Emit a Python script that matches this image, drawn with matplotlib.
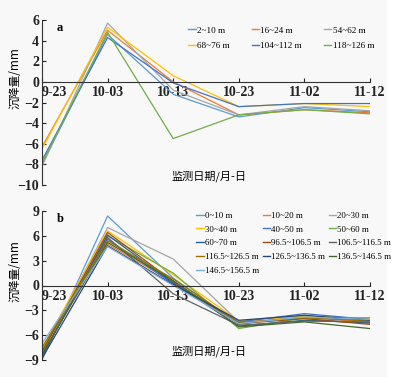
import numpy as np
import matplotlib
matplotlib.use("Agg")
import matplotlib.pyplot as plt
from matplotlib.patches import Rectangle

plt.rcParams['font.family'] = ['Liberation Serif', 'Noto Sans CJK SC']
plt.rcParams['axes.unicode_minus'] = True

# dates (x categories)
dates = ["9-23", "10-03", "10-13", "10-23", "11-02", "11-12"]

# panel a
labels_a = ["2~10 m", "16~24 m", "54~62 m", "68~76 m", "104~112 m", "118~126 m"]
colors_a = ["#5b9bd5", "#ed7d31", "#a5a5a5", "#ffc000", "#4472c4", "#70ad47"]
vals_a = [
    [-8.0, 4.6, -1.2, -3.4, -2.5, -2.9],
    [-6.3, 5.0, 0.0, -3.2, -2.7, -3.0],
    [-8.2, 5.7, -0.8, -3.2, -2.4, -2.8],
    [-6.5, 5.3, 0.6, -2.4, -2.1, -2.4],
    [-7.6, 4.3, -0.1, -2.4, -2.1, -2.1],
    [-7.9, 4.8, -5.5, -3.2, -2.7, -3.1],
]

# panel b
labels_b = ["0~10 m", "10~20 m", "20~30 m", "30~40 m", "40~50 m", "50~60 m",
            "60~70 m", "96.5~106.5 m", "106.5~116.5 m", "116.5~126.5 m",
            "126.5~136.5 m", "136.5~146.5 m", "146.5~156.5 m"]
colors_b = ["#5b9bd5", "#ed7d31", "#a5a5a5", "#ffc000", "#4472c4", "#70ad47",
            "#255e91", "#9e480e", "#636363", "#997300", "#264478", "#43682b",
            "#7cafdd"]
vals_b = [
    [-9.0, 8.4, 0.9, -4.7, -3.6, -4.4],
    [-7.8, 5.0, 0.4, -4.5, -3.8, -4.5],
    [-8.2, 7.0, 3.2, -4.4, -4.0, -4.6],
    [-7.6, 6.6, 1.3, -4.3, -3.7, -4.0],
    [-8.4, 5.6, 0.2, -4.4, -3.4, -4.1],
    [-7.9, 6.0, 1.5, -5.2, -3.9, -3.9],
    [-8.6, 6.1, 0.3, -4.9, -4.2, -4.5],
    [-8.0, 6.4, 0.5, -4.6, -4.0, -4.7],
    [-8.5, 5.8, -1.0, -4.8, -4.3, -4.4],
    [-7.5, 5.4, 0.8, -4.5, -3.9, -4.3],
    [-8.8, 4.8, 0.1, -4.2, -3.6, -4.2],
    [-8.3, 5.2, 0.6, -5.0, -4.4, -5.2],
    [-7.0, 4.7, 0.0, -4.6, -3.8, -4.1],
]

fig = plt.figure(figsize=(4.05, 3.77), dpi=100)
fig.patch.set_facecolor("white")
fig.patches.append(Rectangle((0, 0), 387 / 405, 1, transform=fig.transFigure,
                             facecolor="#f8f8f8", edgecolor="none", zorder=-10))

cjk = ['Noto Sans CJK SC', 'Liberation Serif']


def panel(rect, labels, colors, vals, ylim, yticks, tag, leg_anchor,
          colsp, rowsp, fs, ylab_y):
    ax = fig.add_axes(rect)
    ax.set_facecolor("none")
    x = np.arange(len(dates))
    lines = []
    for lab, c, v in zip(labels, colors, vals):
        ln, = ax.plot(x, v, color=c, lw=0.9, label=lab)
        lines.append(ln)
    ax.set_xlim(0, len(dates) - 1)
    ax.set_ylim(*ylim)
    ax.set_yticks(yticks)
    ax.set_xticks(x)
    for s in ["top", "right"]:
        ax.spines[s].set_visible(False)
    ax.spines["bottom"].set_position(("data", 0))
    ax.spines["bottom"].set_color("#333333")
    ax.spines["left"].set_color("#333333")
    ax.tick_params(axis="both", direction="in", length=3, width=0.8,
                   labelsize=10, pad=2, colors="#222222")
    ax.tick_params(axis="x", pad=3)
    ax.set_xticklabels(dates, fontweight="bold")
    ax.set_yticklabels([f"{v:d}".replace("-", "\u2212") for v in yticks],
                       fontweight="bold")
    ax.get_xticklabels()[0].set_horizontalalignment("left")
    ax.set_ylabel("沉降量/mm", family=cjk, fontsize=8.5, labelpad=1)
    ax.yaxis.set_label_coords(-0.062, ylab_y)
    ax.text(0.51, 0.02, "监测日期/月-日", transform=ax.transAxes, family=cjk,
            fontsize=8, ha="center", va="bottom")
    ax.text(0.045, 0.985, tag, transform=ax.transAxes, fontsize=9,
            fontweight="bold", ha="left", va="top")
    n = len(lines)
    order = [i for col in range(3) for i in range(col, n, 3)]
    leg = ax.legend([lines[i] for i in order], [labels[i] for i in order],
                    ncol=3, loc="upper left", bbox_to_anchor=leg_anchor,
                    frameon=False, fontsize=fs, handlelength=0.8,
                    handletextpad=0.15, columnspacing=colsp,
                    labelspacing=rowsp, borderaxespad=0)
    for h in leg.get_lines():
        h.set_linewidth(1.0)
    return ax


panel([42 / 405, 1 - 185 / 377, 328 / 405, 165 / 377], labels_a, colors_a,
      vals_a, (-10, 6), np.arange(-10, 7, 2), "a", (0.435, 0.985),
      2.4, 0.75, 6.6, 0.65)
panel([42 / 405, 1 - 360 / 377, 328 / 405, 149 / 377], labels_b, colors_b,
      vals_b, (-9, 9), np.arange(-9, 10, 3), "b", (0.46, 1.02),
      0.4, 0.62, 6.4, 0.60)

fig.savefig("out.png", dpi=100, facecolor=fig.get_facecolor())
